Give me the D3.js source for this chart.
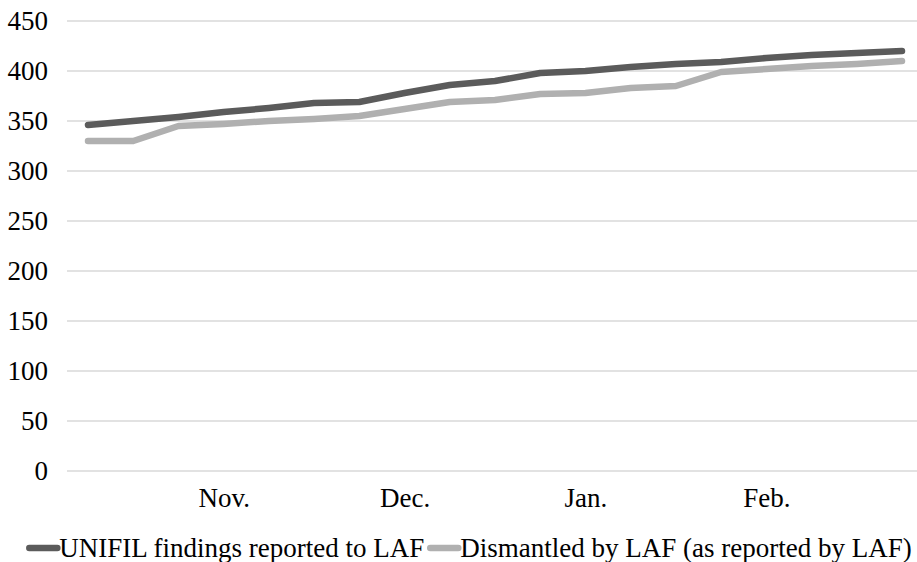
<!DOCTYPE html>
<html>
<head>
<meta charset="utf-8">
<script src="https://cdn.jsdelivr.net/npm/d3@7"></script>
<style>
  html, body { margin: 0; padding: 0; background: #ffffff; }
  svg { display: block; }
  #chart text { font-family: 'Liberation Serif' !important; font-size: 27px; fill: #000; }
</style>
</head>
<body>
<svg id="chart" width="917" height="562"></svg>
<script>
// Weekly observation points
const weeks = ["w1","w2","w3","w4","w5","w6","w7","w8","w9","w10",
               "w11","w12","w13","w14","w15","w16","w17","w18","w19"];

// Cumulative counts per week
const unifilFindings = [346, 350, 354, 359, 363, 368, 369, 378, 386, 390,
                        398, 400, 404, 407, 409, 413, 416, 418, 420];
const dismantledByLaf = [330, 330, 345, 347, 350, 352, 355, 362, 369, 371,
                         377, 378, 383, 385, 399, 402, 405, 407, 410];

// Month labels and the week they sit under
const monthLabels = ["Nov.", "Dec.", "Jan.", "Feb."];
const monthWeeks = ["w4", "w8", "w12", "w16"];

const yTicks = [0, 50, 100, 150, 200, 250, 300, 350, 400, 450];

const seriesNames = ["UNIFIL findings reported to LAF", "Dismantled by LAF (as reported by LAF)"];
const seriesColors = ["#5b5b5b", "#b0b0b0"];

const svg = d3.select("#chart");
const W = 917;

const plotLeft = 67, plotRight = 917;
const x = d3.scalePoint().domain(weeks).range([88, 902]);
const y = d3.scaleLinear().domain([0, 450]).range([471, 21]);

// Horizontal gridlines
svg.append("g")
  .selectAll("line")
  .data(yTicks)
  .join("line")
  .attr("x1", plotLeft)
  .attr("x2", plotRight)
  .attr("y1", d => y(d))
  .attr("y2", d => y(d))
  .attr("stroke", "#d9d9d9")
  .attr("stroke-width", 1.5);

// Y axis labels
const yAxis = d3.axisLeft(y).tickValues(yTicks).tickSize(0).tickPadding(0);
const yg = svg.append("g").attr("transform", "translate(48,0)").call(yAxis)
  .attr("font-family", "Liberation Serif").attr("font-size", 27);
yg.select(".domain").remove();

// Month labels along the bottom
const xAxis = d3.axisBottom(x).tickValues(monthWeeks)
  .tickFormat((d) => monthLabels[monthWeeks.indexOf(d)])
  .tickSize(0).tickPadding(0);
const xg = svg.append("g").attr("transform", "translate(0,488)").call(xAxis)
  .attr("font-family", "Liberation Serif").attr("font-size", 27);
xg.select(".domain").remove();

// Series lines
const line = d3.line()
  .x((d, i) => x(weeks[i]))
  .y(d => y(d));

[dismantledByLaf, unifilFindings].forEach((vals, k) => {
  svg.append("path")
    .datum(vals)
    .attr("d", line)
    .attr("fill", "none")
    .attr("stroke", seriesColors[1 - k])
    .attr("stroke-width", 6.5)
    .attr("stroke-linejoin", "round")
    .attr("stroke-linecap", "round");
});

// Legend
const legend = svg.append("g").attr("transform", "translate(0,548)")
  .attr("font-family", "Liberation Serif").attr("font-size", 27);
const entries = legend.selectAll("g")
  .data(seriesNames)
  .join("g");

entries.append("line")
  .attr("x1", 3).attr("x2", 31)
  .attr("y1", 0).attr("y2", 0)
  .attr("stroke", (d, i) => seriesColors[i])
  .attr("stroke-width", 6.5)
  .attr("stroke-linecap", "round");

entries.append("text")
  .attr("x", 33)
  .attr("y", 0)
  .attr("dy", "0.35em")
  .text(d => d);

// Lay out legend entries side by side, centred under the plot area
const widths = [];
entries.each(function () {
  widths.push(this.getBBox().width);
});
const gap = 6;
const total = d3.sum(widths) + gap * (widths.length - 1);
let start = (W - total) / 2 + 9;
entries.attr("transform", (d, i) => {
  const t = `translate(${start},0)`;
  start += widths[i] + gap;
  return t;
});
</script>
</body>
</html>
